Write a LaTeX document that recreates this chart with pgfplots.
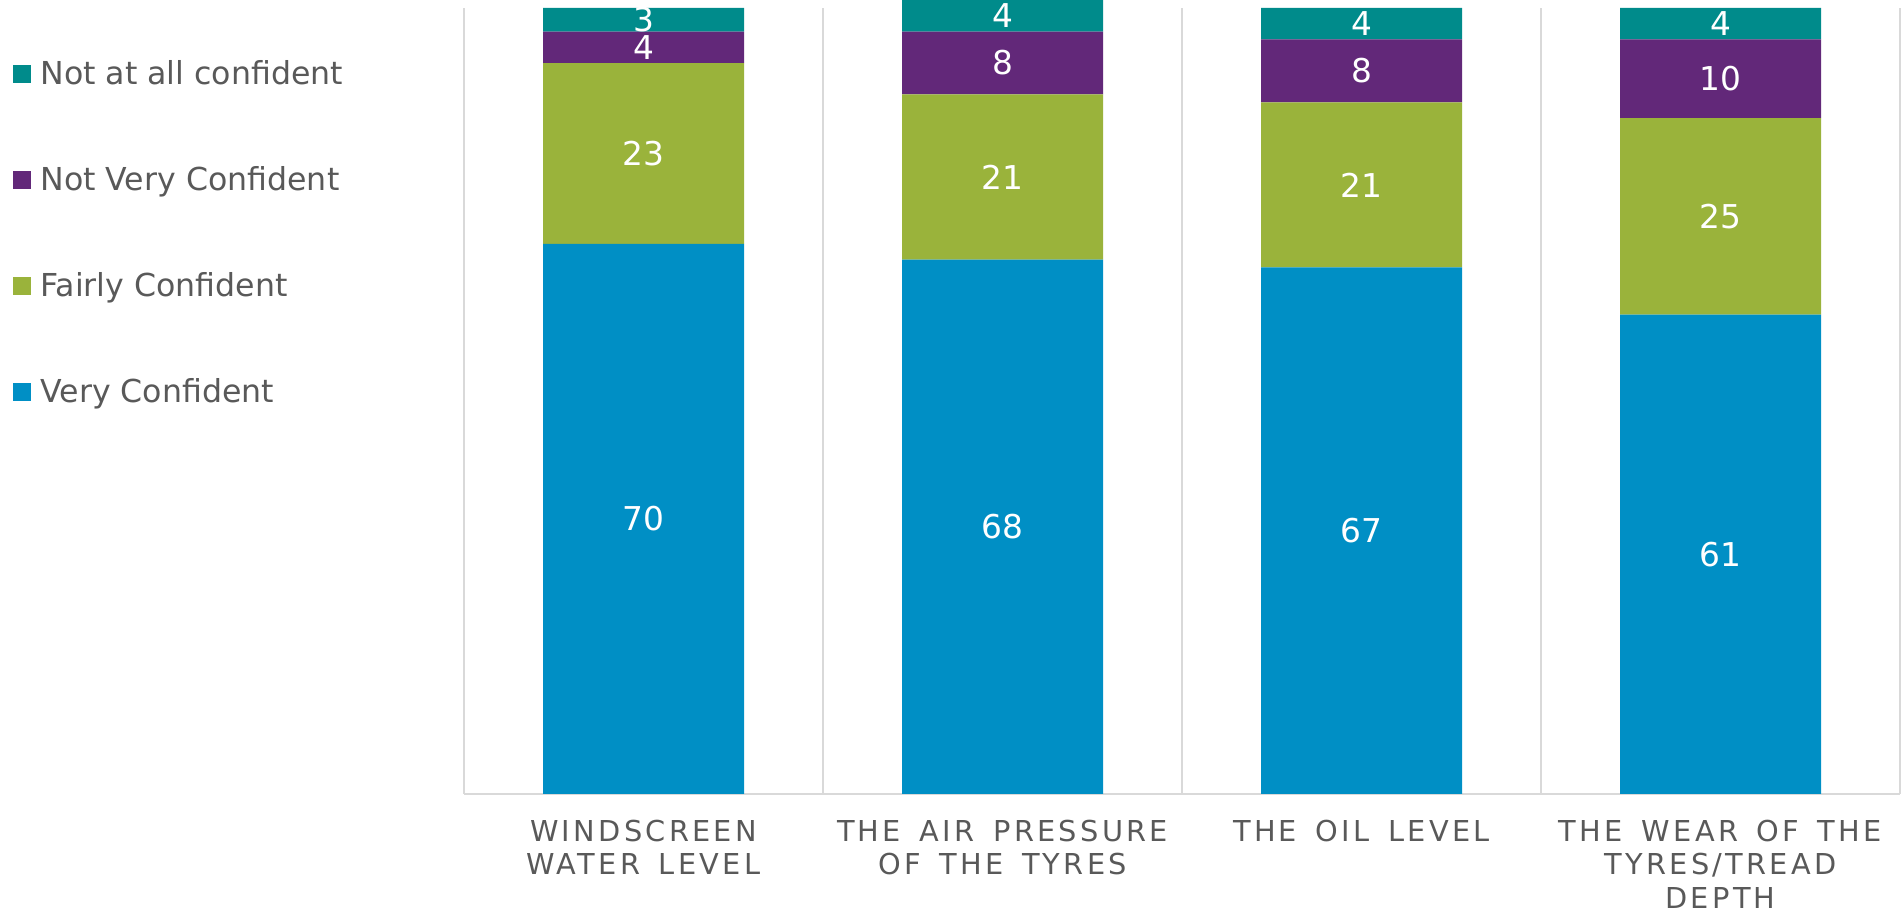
\documentclass[border=0pt]{standalone}
\usepackage{pgfplots}
\usepackage{pgfplotstable}
\pgfplotsset{compat=1.18}
\usepackage{fontspec}
\setmainfont{DejaVu Sans}
\newfontfamily\catfont[LetterSpace=11.5, WordSpace=1.5]{DejaVu Sans}

\definecolor{vconf}{HTML}{008FC5}
\definecolor{fconf}{HTML}{9AB33B}
\definecolor{nvconf}{HTML}{622879}
\definecolor{naconf}{HTML}{008B8B}
\definecolor{txtgrey}{HTML}{595959}
\definecolor{gridgrey}{HTML}{D9D9D9}

\pgfplotstableread{
x very fairly notvery notatall
0 70 23 4 3
1 68 21 8 4
2 67 21 8 4
3 61 25 10 4
}\conftable

\begin{document}
\begin{tikzpicture}
\useasboundingbox (0,0) rectangle (951pt,457pt);
\begin{axis}[
  at={(232pt,60pt)}, anchor=south west,
  scale only axis, width=718pt, height=393pt,
  ybar stacked, bar width=100.5pt,
  xmin=-0.5, xmax=3.5, ymin=0, ymax=100,
  enlargelimits=false, clip=false,
  axis x line*=bottom, axis y line=none,
  x axis line style={draw=gridgrey, line width=1.1pt, -},
  ytick=\empty,
  xtick={0,1,2,3},
  xticklabels={{WINDSCREEN\\WATER LEVEL},{THE AIR PRESSURE\\OF THE TYRES},{THE OIL LEVEL},{THE WEAR OF THE\\TYRES/TREAD\\DEPTH}},
  xticklabel style={align=center, inner sep=0pt, anchor=north, yshift=-12.8pt,
    text=txtgrey, font=\catfont\fontsize{14.4}{16.8}\selectfont},
  major tick length=0pt, minor tick length=0pt,
  minor xtick={-0.5,0.5,1.5,2.5,3.5},
  xminorgrids, minor grid style={draw=gridgrey, line width=0.75pt},
  point meta=explicit,
  /pgf/number format/assume math mode=true,
  nodes near coords,
  every node near coord/.append style={anchor=center,
    text=white, font=\fontsize{16.4}{16.4}\selectfont},
]
\addplot[fill=vconf, draw=none] table[x=x, y=very, meta=very] {\conftable};
\addplot[fill=fconf, draw=none] table[x=x, y=fairly, meta=fairly] {\conftable};
\addplot[fill=nvconf, draw=none] table[x=x, y=notvery, meta=notvery] {\conftable};
\addplot[fill=naconf, draw=none] table[x=x, y=notatall, meta=notatall] {\conftable};
\end{axis}

% legend
\foreach \cy/\col/\txt in {420/naconf/Not at all confident, 367/nvconf/Not Very Confident, 314/fconf/Fairly Confident, 261/vconf/Very Confident}{
  \fill[\col] (6.5pt,{\cy pt-4.5pt}) rectangle ++(9pt,9pt);
  \node[anchor=base west, inner sep=0pt, text=txtgrey, font=\fontsize{15.8}{15.8}\selectfont]
    at (20pt,{\cy pt-5.5pt}) {\txt};
}
\end{tikzpicture}
\end{document}
